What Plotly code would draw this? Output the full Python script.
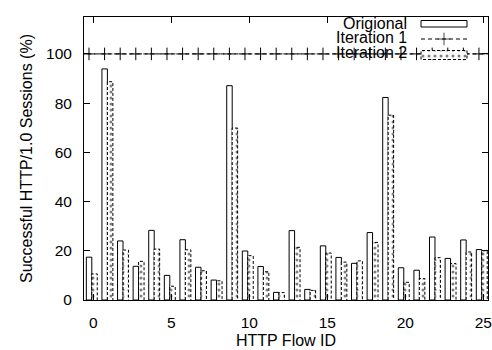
import plotly.graph_objects as go

# ---- data ----
flow_ids = list(range(26))
origional = [17.4, 93.9, 24.0, 13.7, 28.3, 10.0, 24.5, 13.3, 8.1, 87.1,
             19.9, 13.6, 3.1, 28.2, 4.3, 22.0, 17.3, 14.9, 27.4, 82.3,
             13.1, 12.1, 25.6, 16.9, 24.4, 20.5]
iteration_2 = [10.6, 88.7, 20.3, 15.7, 20.7, 5.6, 20.4, 11.9, 7.8, 69.9,
               18.0, 11.5, 3.0, 21.4, 3.9, 19.1, 15.4, 15.9, 23.4, 75.1,
               7.2, 8.7, 17.2, 14.8, 19.5, 20.0]
iteration_1_ids = list(range(-1, 27))
iteration_1 = [100, 100, 100, 100, 100, 100, 100, 100, 100, 100,
               100, 100, 100, 100, 100, 100, 100, 100, 100, 100,
               100, 100, 100, 100, 100, 100, 100, 100]
x_ticks = [0, 5, 10, 15, 20, 25]
y_ticks = [0, 20, 40, 60, 80, 100]
series_names = ["Origional", "Iteration 1", "Iteration 2"]

FONT = "Liberation Sans, Arial, Helvetica, sans-serif"
W = 0.35
OFF_O = -0.45
OFF_2 = -0.10
PT_SHIFT = -0.28

fig = go.Figure()

# Origional bars
fig.add_trace(go.Bar(
    x=flow_ids, y=origional, width=W, offset=OFF_O,
    marker=dict(color="white", line=dict(color="black", width=1)),
    showlegend=False, hoverinfo="skip"))

# Iteration 2 bars (dotted pattern)
fig.add_trace(go.Bar(
    x=flow_ids, y=iteration_2, width=W, offset=OFF_2,
    marker=dict(color="white", line=dict(width=0),
                pattern=dict(shape=".", fgcolor="black", bgcolor="white",
                             size=6, solidity=0.2)),
    showlegend=False, hoverinfo="skip"))

# dashed outlines of Iteration 2 bars
ox, oy = [], []
for i, v in zip(flow_ids, iteration_2):
    x0, x1 = i + OFF_2, i + OFF_2 + W
    ox += [x0, x0, x1, x1, None]
    oy += [0, v, v, 0, None]
fig.add_trace(go.Scatter(x=ox, y=oy, mode="lines",
                         line=dict(color="black", width=1, dash="3px,2px"),
                         showlegend=False, hoverinfo="skip"))

# Iteration 1 line
fig.add_trace(go.Scatter(
    x=[i + PT_SHIFT for i in iteration_1_ids], y=iteration_1,
    mode="lines+markers",
    line=dict(color="black", width=1, dash="4px,3px"),
    marker=dict(symbol="cross-thin", size=9, line=dict(color="black", width=1)),
    showlegend=False, hoverinfo="skip"))

# ---- legend (gnuplot style: text then sample) on overlay axes in pixel units ----
L, R, T, B = 84, 488, 17, 300


def fx(px):
    return (px - L) / (R - L)


def fy(py):
    return (B - py) / (B - T)


# Origional sample
fig.add_trace(go.Scatter(
    x=[fx(421), fx(421), fx(467), fx(467), fx(421)],
    y=[fy(27), fy(20.5), fy(20.5), fy(27), fy(27)],
    mode="lines", line=dict(color="black", width=1),
    xaxis="x2", yaxis="y2", showlegend=False, hoverinfo="skip"))
# Iteration 1 sample
fig.add_trace(go.Scatter(
    x=[fx(421), fx(444), fx(467)], y=[fy(39), fy(39), fy(39)],
    mode="lines+markers",
    line=dict(color="black", width=1, dash="4px,3px"),
    marker=dict(symbol="cross-thin", size=[0, 9, 0],
                line=dict(color="black", width=1)),
    xaxis="x2", yaxis="y2", showlegend=False, hoverinfo="skip"))
# Iteration 2 sample
fig.add_trace(go.Scatter(
    x=[fx(421), fx(421), fx(467), fx(467), fx(421)],
    y=[fy(59.5), fy(50.5), fy(50.5), fy(59.5), fy(59.5)],
    mode="lines", fill="toself", fillcolor="white",
    fillpattern=dict(shape=".", fgcolor="black", bgcolor="white",
                     size=6, solidity=0.2),
    line=dict(color="black", width=1, dash="3px,2px"),
    xaxis="x2", yaxis="y2", showlegend=False, hoverinfo="skip"))

for name, py in zip(series_names, [23, 37.5, 52]):
    fig.add_annotation(x=fx(409), y=fy(py), xref="x2", yref="y2",
                       text=name, showarrow=False, xanchor="right",
                       yanchor="middle",
                       font=dict(family=FONT, size=16, color="black"))

axis_common = dict(showline=True, linecolor="black", linewidth=1,
                   mirror="ticks", ticks="inside", ticklen=6,
                   tickcolor="black", tickwidth=1, showgrid=False,
                   zeroline=False, automargin=False,
                   tickfont=dict(family=FONT, size=15.5, color="black"))

fig.update_layout(
    width=492, height=350,
    margin=dict(l=L, r=492 - R, t=T, b=350 - B, autoexpand=False),
    paper_bgcolor="white", plot_bgcolor="white",
    barmode="overlay", bargap=0,
    xaxis=dict(range=[-0.6, 25.3], tickvals=x_ticks, ticklabelstandoff=8,
               title=dict(text="HTTP Flow ID", standoff=5,
                          font=dict(family=FONT, size=16, color="black")),
               **axis_common),
    yaxis=dict(range=[0, 115], tickvals=y_ticks, ticklabelstandoff=8,
               title=dict(text="Successful HTTP/1.0 Sessions (%)", standoff=9,
                          font=dict(family=FONT, size=16, color="black")),
               **axis_common),
    xaxis2=dict(overlaying="x", range=[0, 1], visible=False, fixedrange=True),
    yaxis2=dict(overlaying="y", range=[0, 1], visible=False, fixedrange=True),
)

fig.write_html("out.html",
               config={"displayModeBar": False, "staticPlot": True},
               post_script="document.body.style.margin='0px';"
                           "document.body.style.overflow='hidden';")
